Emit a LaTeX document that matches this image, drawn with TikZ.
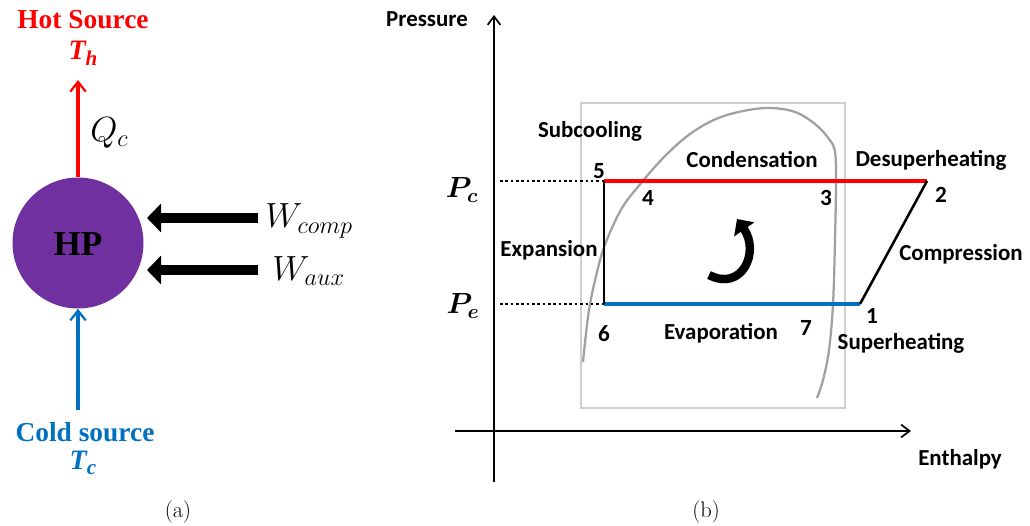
\documentclass[tikz,border=0pt]{standalone}
\usepackage{fontspec}
\usepackage{amsmath}
\usetikzlibrary{arrows.meta}
\newfontfamily\calib{Carlito}
\newfontfamily\tnrfont{Liberation Serif}
\definecolor{hpred}{HTML}{FF0000}
\definecolor{hpblue}{HTML}{0070C0}
\definecolor{hppurple}{HTML}{7030A0}
\definecolor{domegrey}{HTML}{A0A0A0}
\definecolor{boxgrey}{HTML}{CFCFCF}
\tikzset{
  lbl/.style={inner sep=0pt, font=\calib\bfseries\fontsize{16.3}{18}\selectfont},
  num/.style={inner sep=0pt, font=\calib\bfseries\fontsize{16.5}{18}\selectfont},
  serifbig/.style={inner sep=0pt, font=\tnrfont\bfseries\fontsize{19.5}{21}\selectfont},
  mathlbl/.style={inner sep=0pt, font=\fontsize{23}{25}\selectfont},
  plbl/.style={inner sep=0pt, font=\boldmath\fontsize{19.5}{22}\selectfont},
  caption/.style={inner sep=0pt, font=\fontsize{16}{18}\selectfont},
  flow/.style={line width=2.2pt, -{Straight Barb[length=7pt,width=11pt,line width=1.6pt]}},
  work/.style={line width=7.6pt, -{Triangle[length=10pt,width=20pt]}},
  axis/.style={line width=1.4pt, -{Straight Barb[length=6pt,width=9pt,line width=1.2pt]}},
  guide/.style={line width=1.8pt, dotted},
}
\begin{document}
\begin{tikzpicture}[x=0.025cm, y=-0.025cm]
\useasboundingbox (0,0) rectangle (1030,525);
% ---------------- (a) ----------------
\node[serifbig, text=hpred] (hot) at (83,20) {Hot Source};
\node[inner sep=0pt, text=hpred, font=\tnrfont\bfseries\itshape\fontsize{20}{21}\selectfont] (Th) at (83,53) {T\raisebox{-4pt}{\fontsize{15}{15}\selectfont h}};
\node[circle, fill=hppurple, minimum size=131*0.025cm, inner sep=0pt] (hp) at (78,243) {};
\node[inner sep=0pt, font=\tnrfont\bfseries\fontsize{25}{27}\selectfont] (hplbl) at (78,244) {HP};
\coordinate (topT) at (78,80);
\draw[flow, hpred] (hp.north) -- (topT);
\node[mathlbl, anchor=west] (Qc) at (90,133) {$Q_c$};
\coordinate (wc0) at (258,218);
\coordinate (wc1) at (147,218);
\coordinate (wa0) at (258,270);
\coordinate (wa1) at (147,270);
\draw[work] (wc0) -- (wc1);
\draw[work] (wa0) -- (wa1);
\node[mathlbl, anchor=west] (Wc) at (265,221) {$W_{comp}$};
\node[mathlbl, anchor=west] (Wa) at (272,271) {$W_{aux}$};
\node[serifbig, text=hpblue] (cold) at (85,432) {Cold source};
\node[inner sep=0pt, text=hpblue, font=\tnrfont\bfseries\itshape\fontsize{20}{21}\selectfont] (Tc) at (83,463) {T\raisebox{-4pt}{\fontsize{15}{15}\selectfont c}};
\coordinate (botT) at (78,410);
\draw[flow, hpblue] (botT) -- (hp.south);
\node[caption] (capa) at (178,512) {(a)};
% ---------------- (b) ----------------
\coordinate (yb) at (494,482);
\coordinate (yt) at (494,15);
\coordinate (xl) at (455,431);
\coordinate (xr) at (911,431);
\draw[axis] (yb) -- (yt);
\draw[axis] (xl) -- (xr);
\node[lbl] (pres) at (427,19) {Pressure};
\node[lbl] (enth) at (960,459) {Enthalpy};
% grey box and dome
\draw[boxgrey, line width=0.8pt] (581,103) rectangle (845,408);
\draw[domegrey, line width=1.6pt] plot[smooth, tension=0.6] coordinates {
  (583,362) (589,310) (598,268) (606,242) (622,208) (642,182) (665,156)
  (690,134) (716,119) (743,111) (770,108) (795,112) (815,124) (829,139)
  (835,152) (836,182) (835,240) (833,304) (829,350) (823,380) (817,398)};
% cycle points
\coordinate (p1) at (860,304);
\coordinate (p2) at (927,181);
\coordinate (p5) at (604,181);
\coordinate (p6) at (604,304);
\coordinate (pcl) at (500,181);
\coordinate (pel) at (500,304);
\draw[guide] (pcl) -- (p5);
\draw[guide] (pel) -- (p6);
\draw[hpred, line width=2.2pt] (p5) -- (p2);
\draw[hpblue, line width=2.2pt] (p6) -- (p1);
\draw[black, line width=1.8pt] (p5) -- (p6);
\draw[black, line width=1.8pt] (p2) -- (p1);
\node[plbl] (Pc) at (462,190) {$P_c$};
\node[plbl] (Pe) at (463,306) {$P_e$};
% labels
\node[lbl] (sub) at (590,131) {Subcooling};
\node[lbl] (cond) at (752,160) {Condensation};
\node[lbl] (desup) at (931,160) {Desuperheating};
\node[lbl] (comp) at (961,254) {Compression};
\node[lbl] (exp) at (549,250) {Expansion};
\node[lbl] (evap) at (721,333) {Evaporation};
\node[lbl] (suph) at (901,343) {Superheating};
\node[num] (n5) at (599,171) {5};
\node[num] (n4) at (648,198) {4};
\node[num] (n3) at (826,198) {3};
\node[num] (n2) at (941,195) {2};
\node[num] (n6) at (604,334) {6};
\node[num] (n7) at (806,328) {7};
\node[num] (n1) at (872,316) {1};
% rotation arrow
\coordinate (ra0) at (709,275);
\coordinate (ra1) at (737,219);
\draw[line width=6pt, -{Triangle[length=9pt,width=17pt]}] (ra0) .. controls (742,292) and (760,252) .. (ra1);
\node[caption] (capb) at (706,512) {(b)};
\end{tikzpicture}
\end{document}
